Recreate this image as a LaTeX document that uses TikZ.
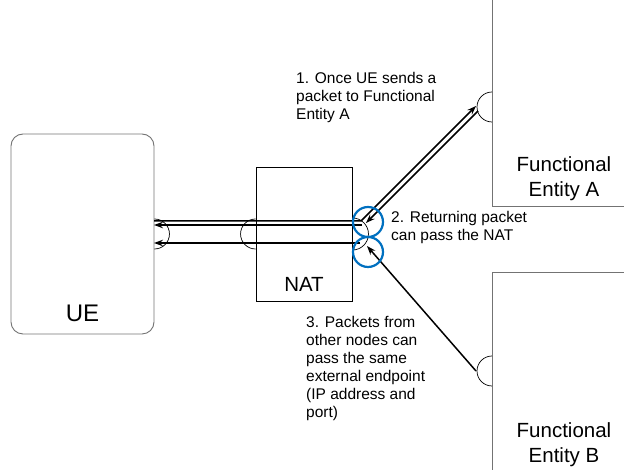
\documentclass[tikz,border=0pt]{standalone}
\usepackage{fontspec}
\setmainfont{Liberation Sans}
\usetikzlibrary{positioning,arrows.meta}
\definecolor{ringblue}{RGB}{0,112,192}

\begin{document}
\begin{tikzpicture}[x=1pt,y=1pt,
                    entity/.style={draw=black!55,line width=0.9pt,minimum width=144pt},
                    port/.style={draw=black,line width=0.7pt},
                    packet/.style={draw=black,line width=1.5pt,
                                   -{Stealth[length=9pt,width=6.5pt]}},
                    hilite/.style={circle,draw=ringblue,line width=2.2pt,
                                   minimum size=30pt,inner sep=0pt},
                    note/.style={font=\fontsize{15.5}{18}\selectfont,align=left,
                                 anchor=north west,inner sep=0pt},
                    big label/.style={font=\fontsize{20.5}{25}\selectfont,align=center,
                                      inner sep=0pt}
                   ]
   \clip (0,0) rectangle (624,470);

   % boxes
   \node[entity,rounded corners=12pt,minimum width=143pt,minimum height=200pt] (ue) at (82.5,236) {};
   \node[entity,draw=black,minimum width=96pt,minimum height=134pt] (nat) at (304,236) {};
   \node[entity,minimum height=226pt] (fea) at (564,377) {};
   \node[entity,minimum height=228pt] (feb) at (564,84) {};

   % ports
   \coordinate (fea port) at (492,363);
   \coordinate (feb port) at (492,99);
   \draw[port] ([yshift=15pt]ue.east) arc[start angle=90,end angle=-90,radius=15pt];
   \draw[port] ([yshift=15pt]nat.west) arc[start angle=90,end angle=270,radius=15pt];
   \draw[port] ([yshift=16pt]nat.east) arc[start angle=90,end angle=-90,radius=16pt];
   \draw[port] ([yshift=15pt]fea port) arc[start angle=90,end angle=270,radius=15pt];
   \draw[port] ([yshift=15pt]feb port) arc[start angle=90,end angle=270,radius=15pt];

   % packet paths
   \coordinate (ue out) at (154,249);
   \coordinate (nat bend) at (361,249);
   \coordinate (fea in) at (476,364);
   \coordinate (fea out) at (478,359);
   \coordinate (nat back) at (366,247);
   \coordinate (nat left1) at (362,245);
   \coordinate (ue in1) at (154,245);
   \coordinate (feb out) at (476,99);
   \coordinate (nat other) at (367,224);
   \coordinate (nat left2) at (360,227);
   \coordinate (ue in2) at (154,227);

   \draw[packet] (ue out) -- (nat bend) -- (fea in);
   \draw[packet] (fea out) -- (nat back);
   \draw[packet] (nat left1) -- (ue in1);
   \draw[packet] (feb out) -- (nat other);
   \draw[packet] (nat left2) -- (ue in2);

   \node[hilite] (ring1) at (368,248) {};
   \node[hilite] (ring2) at (368,218) {};

   % labels
   \node[font=\fontsize{24}{28}\selectfont,anchor=base,inner sep=0pt] (ue label) at (82.5,148) {UE};
   \node[font=\fontsize{20.5}{24}\selectfont,anchor=base,inner sep=0pt] (nat label) at (304,178) {NAT};
   \node[big label,anchor=north] (fea label) at (564,314) {Functional\\Entity A};
   \node[big label,anchor=north] (feb label) at (564,48) {Functional\\Entity B};
   \node[note] (step1) at (296,398) {1. Once UE sends a\\packet to Functional\\Entity A};
   \node[note] (step2) at (391,259) {2. Returning packet\\can pass the NAT};
   \node[note] (step3) at (306,154) {3. Packets from\\other nodes can\\pass the same\\external endpoint\\(IP address and\\port)};
 \end{tikzpicture}
\end{document}
